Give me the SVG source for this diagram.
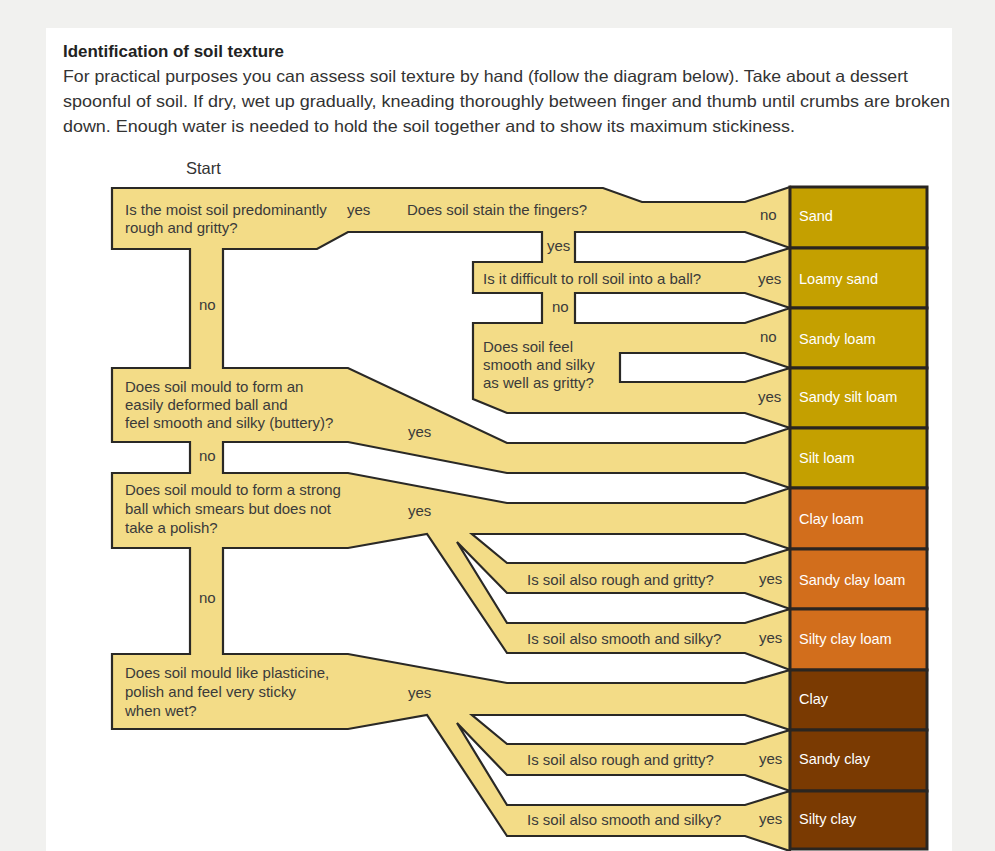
<svg xmlns="http://www.w3.org/2000/svg" width="995" height="851" viewBox="0 0 995 851">
<style>
text{font-family:"Liberation Sans",Arial,sans-serif}
.hdr{font-size:16.5px;fill:#333}
.ttl{font-size:16.5px;font-weight:bold;fill:#222}
.q{font-size:15px;fill:#3a3a3a}
.res{font-size:14.5px;fill:#ffffff}
.flow{fill:#f3dc87;stroke:#2a2926;stroke-width:2.2;stroke-linejoin:miter}
.cell{stroke:#2a2520;stroke-width:3}
.sand{fill:#c4a000}
.clayl{fill:#d26e1c}
.clay{fill:#7a3a02}
</style>
<rect x="0" y="0" width="995" height="851" fill="#f1f1ef"/>
<rect x="46" y="28" width="906" height="823" fill="#ffffff"/>
<g id="header">
<text class="ttl" x="63" y="57" textLength="221" lengthAdjust="spacingAndGlyphs">Identification of soil texture</text>
<text class="hdr" x="63" y="82" textLength="845" lengthAdjust="spacingAndGlyphs">For practical purposes you can assess soil texture by hand (follow the diagram below). Take about a dessert</text>
<text class="hdr" x="63" y="107" textLength="887" lengthAdjust="spacingAndGlyphs">spoonful of soil. If dry, wet up gradually, kneading thoroughly between finger and thumb until crumbs are broken</text>
<text class="hdr" x="63" y="132" textLength="732" lengthAdjust="spacingAndGlyphs">down. Enough water is needed to hold the soil together and to show its maximum stickiness.</text>
<text class="hdr" x="186" y="174">Start</text>
</g>
<g id="connectors">
<path class="flow" d="M112,188 L603,188 L642,202 L745,202 L790,187 L790,248 L745,232 L575,232 L575,262 L745,262 L790,248 L790,308 L745,293 L575,293 L575,323 L745,323 L790,308 L790,368 L745,353 L620,353 L620,382 L745,382 L790,368 L790,428 L745,413 L507,413 L473,399 L473,323 L542,323 L542,293 L473,293 L473,262 L542,262 L542,232 L348,232 L317,249 L223,249 L223,368 L348,368 L507,443 L745,443 L790,428 L790,488 L745,473 L507,473 L348,442 L223,442 L223,473 L348,473 L507,503 L745,503 L790,488 L790,549 L745,534 L472,534 L507,563 L745,563 L790,549 L790,609 L745,593 L507,593 L457,542 L507,623 L745,623 L790,609 L790,670 L745,653 L507,653 L427,534 L348,548 L223,548 L223,654 L348,654 L507,683 L745,683 L790,670 L790,730 L745,715 L472,715 L507,744 L745,744 L790,730 L790,791 L745,775 L507,775 L457,723 L507,805 L745,805 L790,791 L790,851 L745,836 L507,836 L427,715 L348,729 L112,729 L112,654 L190,654 L190,548 L112,548 L112,473 L190,473 L190,442 L112,442 L112,368 L190,368 L190,249 L112,249 Z"/>
<g class="q">
<text x="347" y="215">yes</text>
<text x="199" y="310">no</text>
<text x="760" y="220">no</text>
<text x="547" y="251">yes</text>
<text x="758" y="284">yes</text>
<text x="552" y="312">no</text>
<text x="760" y="342">no</text>
<text x="758" y="402">yes</text>
<text x="408" y="437">yes</text>
<text x="199" y="461">no</text>
<text x="408" y="516">yes</text>
<text x="199" y="603">no</text>
<text x="759" y="584">yes</text>
<text x="759" y="643">yes</text>
<text x="408" y="698">yes</text>
<text x="759" y="764">yes</text>
<text x="759" y="824">yes</text>
</g>
</g>
<g id="q-rough" class="q"><text x="125" y="215">Is the moist soil predominantly</text><text x="125" y="233">rough and gritty?</text></g>
<g id="q-stain" class="q"><text x="407" y="215">Does soil stain the fingers?</text></g>
<g id="q-roll" class="q"><text x="483" y="284">Is it difficult to roll soil into a ball?</text></g>
<g id="q-feel" class="q"><text x="483" y="352">Does soil feel</text><text x="483" y="370">smooth and silky</text><text x="483" y="388">as well as gritty?</text></g>
<g id="q-buttery" class="q"><text x="125" y="392">Does soil mould to form an</text><text x="125" y="410">easily deformed ball and</text><text x="125" y="428">feel smooth and silky (buttery)?</text></g>
<g id="q-strong" class="q"><text x="125" y="495">Does soil mould to form a strong</text><text x="125" y="514">ball which smears but does not</text><text x="125" y="533">take a polish?</text></g>
<g id="q-rough2" class="q"><text x="527" y="585">Is soil also rough and gritty?</text></g>
<g id="q-smooth2" class="q"><text x="527" y="644">Is soil also smooth and silky?</text></g>
<g id="q-plasticine" class="q"><text x="125" y="678">Does soil mould like plasticine,</text><text x="125" y="697">polish and feel very sticky</text><text x="125" y="716">when wet?</text></g>
<g id="q-rough3" class="q"><text x="527" y="765">Is soil also rough and gritty?</text></g>
<g id="q-smooth3" class="q"><text x="527" y="825">Is soil also smooth and silky?</text></g>
<g id="r-sand"><rect class="cell sand" x="790" y="187" width="137" height="61"/><text class="res" x="799" y="221">Sand</text></g>
<g id="r-loamy-sand"><rect class="cell sand" x="790" y="248" width="137" height="60"/><text class="res" x="799" y="284">Loamy sand</text></g>
<g id="r-sandy-loam"><rect class="cell sand" x="790" y="308" width="137" height="60"/><text class="res" x="799" y="344">Sandy loam</text></g>
<g id="r-sandy-silt-loam"><rect class="cell sand" x="790" y="368" width="137" height="60"/><text class="res" x="799" y="402">Sandy silt loam</text></g>
<g id="r-silt-loam"><rect class="cell sand" x="790" y="428" width="137" height="60"/><text class="res" x="799" y="463">Silt loam</text></g>
<g id="r-clay-loam"><rect class="cell clayl" x="790" y="488" width="137" height="61"/><text class="res" x="799" y="524">Clay loam</text></g>
<g id="r-sandy-clay-loam"><rect class="cell clayl" x="790" y="549" width="137" height="60"/><text class="res" x="799" y="585">Sandy clay loam</text></g>
<g id="r-silty-clay-loam"><rect class="cell clayl" x="790" y="609" width="137" height="61"/><text class="res" x="799" y="644">Silty clay loam</text></g>
<g id="r-clay"><rect class="cell clay" x="790" y="670" width="137" height="60"/><text class="res" x="799" y="704">Clay</text></g>
<g id="r-sandy-clay"><rect class="cell clay" x="790" y="730" width="137" height="61"/><text class="res" x="799" y="764">Sandy clay</text></g>
<g id="r-silty-clay"><rect class="cell clay" x="790" y="791" width="137" height="58"/><text class="res" x="799" y="824">Silty clay</text></g>
</svg>
